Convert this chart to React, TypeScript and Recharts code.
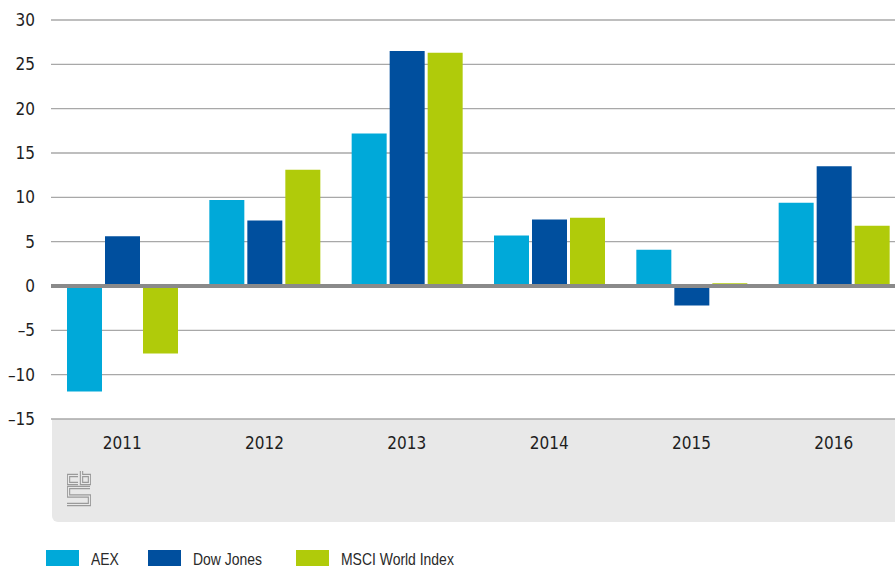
import React from 'react';
import { BarChart, Bar, XAxis, YAxis, CartesianGrid, ReferenceLine } from 'recharts';

// values (annual change, %)
const years = ['2011', '2012', '2013', '2014', '2015', '2016'];
const aex = [-11.9, 9.7, 17.2, 5.7, 4.1, 9.4];
const dowJones = [5.6, 7.4, 26.5, 7.5, -2.2, 13.5];
const msciWorld = [-7.6, 13.1, 26.3, 7.7, 0.3, 6.8];
const yTicks = [-15, -10, -5, 0, 5, 10, 15, 20, 25, 30];

const series = [
  { key: 'aex', name: 'AEX', color: '#00a9d9' },
  { key: 'dj', name: 'Dow Jones', color: '#004f9e' },
  { key: 'msci', name: 'MSCI World Index', color: '#b0cb0a' },
];

const data = years.map((year, i) => ({
  year,
  aex: aex[i],
  dj: dowJones[i],
  msci: msciWorld[i],
}));

const tickFont = "'DejaVu Sans Condensed', 'DejaVu Sans', sans-serif";
const legendFont = "'Liberation Sans', Arial, sans-serif";

// little cbs mark in the grey footer box
const CbsLogo = () => {
  const paths = [
    'M11 4.5 H1.5 V12.5 H11',
    'M14.5 0 V12.5 H22.5 V4.5 H14.5',
    'M23 16.5 H1.5 V25 H22.5 V33.5 H0',
  ];
  return (
    <svg width={24} height={36} viewBox="0 0 24 36">
      {paths.map((d) => (
        <path key={d + 'o'} d={d} fill="none" stroke="#9a9a9a" strokeWidth={3.4} />
      ))}
      {paths.map((d) => (
        <path key={d + 'i'} d={d} fill="none" stroke="#e8e8e8" strokeWidth={1.2} />
      ))}
    </svg>
  );
};

export default function App() {
  return (
    <div
      style={{
        position: 'absolute',
        left: 0,
        top: 0,
        width: 895,
        height: 568,
        overflow: 'hidden',
        background: '#fff',
      }}
    >
      {/* grey box behind the category labels */}
      <div
        style={{
          position: 'absolute',
          left: 52,
          top: 419,
          width: 900,
          height: 103,
          background: '#e8e8e8',
          borderBottomLeftRadius: 6,
        }}
      />
      <div style={{ position: 'absolute', left: 67, top: 471 }}>
        <CbsLogo />
      </div>

      <div style={{ position: 'absolute', left: 0, top: 0 }}>
        <BarChart
          width={905}
          height={459}
          data={data}
          margin={{ top: 20, right: 0, left: 0, bottom: 0 }}
          barSize={35}
          barGap={3}
        >
          <CartesianGrid vertical={false} stroke="#a8a8a8" strokeWidth={1.3} />
          <XAxis
            dataKey="year"
            axisLine={false}
            tickLine={false}
            tickSize={0}
            tickMargin={18}
            height={40}
            tick={{ fill: '#1e1e1e', fontSize: 17, fontFamily: tickFont }}
          />
          <YAxis
            width={51}
            domain={[-15, 30]}
            ticks={yTicks}
            interval={0}
            axisLine={false}
            tickLine={false}
            tickSize={0}
            tickMargin={16}
            tickFormatter={(v: number) => String(v).replace('-', '\u2013')}
            tick={{ fill: '#1e1e1e', fontSize: 17, fontFamily: tickFont }}
          />
          {series.map((s) => (
            <Bar key={s.key} dataKey={s.key} name={s.name} fill={s.color} isAnimationActive={false} />
          ))}
          <ReferenceLine y={0} stroke="#8a8a8a" strokeWidth={4} />
        </BarChart>
      </div>

      {/* legend */}
      {series.map((s, i) => {
        const swatchX = [46, 148, 296][i];
        return (
          <React.Fragment key={s.key}>
            <div
              style={{
                position: 'absolute',
                left: swatchX,
                top: 550,
                width: 33,
                height: 16,
                background: s.color,
              }}
            />
            <div
              style={{
                position: 'absolute',
                left: swatchX + 45,
                top: 551,
                fontFamily: legendFont,
                fontSize: 17,
                lineHeight: '17px',
                color: '#2a2a2a',
                whiteSpace: 'nowrap',
                transform: 'scaleX(0.82)',
                transformOrigin: 'left center',
              }}
            >
              {s.name}
            </div>
          </React.Fragment>
        );
      })}
    </div>
  );
}
